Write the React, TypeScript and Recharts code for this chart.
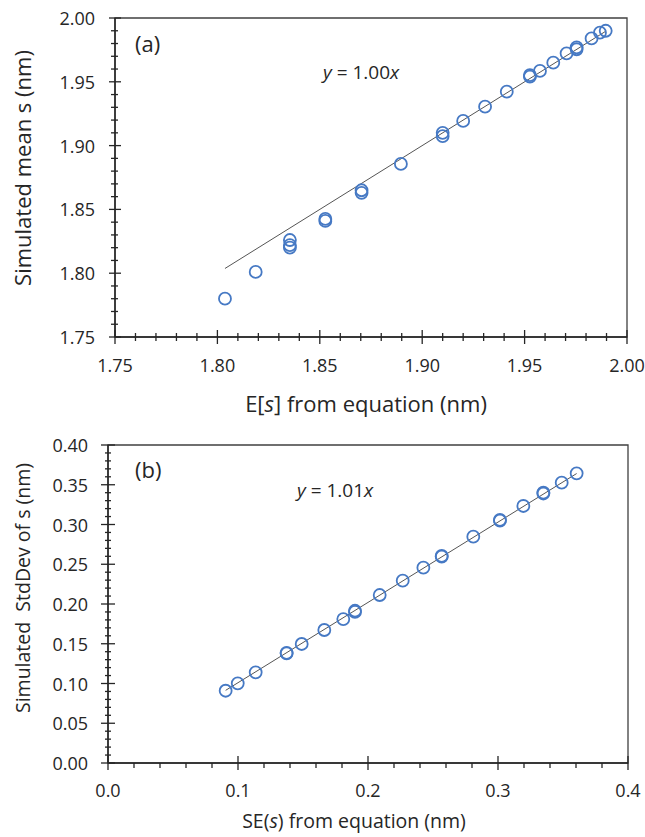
import React from 'react';
import { ScatterChart, Scatter, XAxis, YAxis, ReferenceLine, ReferenceArea, Customized } from 'recharts';

// ---- Panel (a) data ----
const meanX = [1.8037, 1.8187, 1.8354, 1.8354, 1.8354, 1.8527, 1.8527, 1.8704, 1.8704, 1.8896, 1.910, 1.910, 1.920, 1.9307, 1.9413, 1.9526, 1.9526, 1.9575, 1.964, 1.9705, 1.9754, 1.9754, 1.9827, 1.9868, 1.9896];
const meanY = [1.780, 1.801, 1.826, 1.822, 1.820, 1.8425, 1.841, 1.865, 1.863, 1.8856, 1.910, 1.9075, 1.9193, 1.9305, 1.9423, 1.9553, 1.954, 1.9585, 1.965, 1.9723, 1.977, 1.9755, 1.984, 1.9885, 1.990];
const slopeA = 1.0;

// ---- Panel (b) data ----
const sdX = [0.0905, 0.0998, 0.1136, 0.1374, 0.1374, 0.149, 0.1664, 0.181, 0.19, 0.19, 0.209, 0.2267, 0.2426, 0.2567, 0.2567, 0.281, 0.3015, 0.3015, 0.3195, 0.3349, 0.3349, 0.349, 0.3605];
const sdY = [0.0909, 0.1002, 0.114, 0.138, 0.1385, 0.1497, 0.1673, 0.181, 0.19, 0.1915, 0.2113, 0.2293, 0.2457, 0.2597, 0.2605, 0.2847, 0.305, 0.3057, 0.3233, 0.339, 0.340, 0.3526, 0.3644];
const slopeB = 1.01;

// ---- Ticks ----
const aMajor = [1.75, 1.80, 1.85, 1.90, 1.95, 2.00];
const aMinor = [1.76, 1.77, 1.78, 1.79, 1.81, 1.82, 1.83, 1.84, 1.86, 1.87, 1.88, 1.89, 1.91, 1.92, 1.93, 1.94, 1.96, 1.97, 1.98, 1.99];
const bXMajor = [0, 0.1, 0.2, 0.3, 0.4];
const bXMinor = [0.02, 0.04, 0.06, 0.08, 0.12, 0.14, 0.16, 0.18, 0.22, 0.24, 0.26, 0.28, 0.32, 0.34, 0.36, 0.38];
const bYMajor = [0, 0.05, 0.10, 0.15, 0.20, 0.25, 0.30, 0.35, 0.40];
const bYMinor = [0.01, 0.02, 0.03, 0.04, 0.06, 0.07, 0.08, 0.09, 0.11, 0.12, 0.13, 0.14, 0.16, 0.17, 0.18, 0.19, 0.21, 0.22, 0.23, 0.24, 0.26, 0.27, 0.28, 0.29, 0.31, 0.32, 0.33, 0.34, 0.36, 0.37, 0.38, 0.39];

const FONT = '"Open Sans", sans-serif';
const TXT = '#262626';
const AX = '#262626';
const MARK = '#4679C4';

const dataA = meanX.map((x, i) => ({ x, y: meanY[i] }));
const dataB = sdX.map((x, i) => ({ x, y: sdY[i] }));
const aMinX = Math.min(...meanX), aMaxX = Math.max(...meanX);
const bMinX = Math.min(...sdX), bMaxX = Math.max(...sdX);

const isIn = (arr: number[], v: number) => arr.some((m) => Math.abs(m - v) < 1e-9);

const makeXTick = (majors: number[], maj: [number, number], min: [number, number], labelOff: number, dec: number) =>
  (props: any) => {
    const { x, y, payload } = props;
    const v = payload.value;
    const major = isIn(majors, v);
    const len = major ? maj : min;
    return (
      <g>
        <line x1={x} x2={x} y1={y - len[0]} y2={y + len[1]} stroke={AX} strokeWidth={1.3} />
        {major && (
          <text x={x} y={y + labelOff} textAnchor="middle" dominantBaseline="central" fontSize={18} fontFamily={FONT} fill={TXT}>
            {v.toFixed(dec)}
          </text>
        )}
      </g>
    );
  };

const makeYTick = (majors: number[], maj: [number, number], min: [number, number], labelOff: number, dec: number) =>
  (props: any) => {
    const { x, y, payload } = props;
    const v = payload.value;
    const major = isIn(majors, v);
    const len = major ? maj : min;
    return (
      <g>
        <line x1={x - len[0]} x2={x + len[1]} y1={y} y2={y} stroke={AX} strokeWidth={1.3} />
        {major && (
          <text x={x - labelOff} y={y} textAnchor="end" dominantBaseline="central" fontSize={18} fontFamily={FONT} fill={TXT}>
            {v.toFixed(dec)}
          </text>
        )}
      </g>
    );
  };

const ring = (p: any) => <circle cx={p.cx} cy={p.cy} r={6} fill="none" stroke={MARK} strokeWidth={1.8} />;

const AnnotA = () => (
  <g fontFamily={FONT} fill={TXT}>
    <text x={135} y={43} dominantBaseline="central" fontSize={22}>(a)</text>
    <text x={323} y={72} dominantBaseline="central" fontSize={19}>
      <tspan fontStyle="italic">y</tspan> = 1.00<tspan fontStyle="italic">x</tspan>
    </text>
    <text x={366} y={403} textAnchor="middle" dominantBaseline="central" fontSize={22}>
      E[<tspan fontStyle="italic">s</tspan>] from equation (nm)
    </text>
    <text x={22} y={168} textAnchor="middle" dominantBaseline="central" fontSize={22} transform="rotate(-90 22 168)">
      Simulated mean s (nm)
    </text>
  </g>
);

const AnnotB = () => (
  <g fontFamily={FONT} fill={TXT}>
    <text x={135} y={49} dominantBaseline="central" fontSize={22}>(b)</text>
    <text x={297} y={70} dominantBaseline="central" fontSize={19}>
      <tspan fontStyle="italic">y</tspan> = 1.01<tspan fontStyle="italic">x</tspan>
    </text>
    <text x={354} y={400} textAnchor="middle" dominantBaseline="central" fontSize={19.5}>
      SE(<tspan fontStyle="italic">s</tspan>) from equation (nm)
    </text>
    <text x={22} y={168} textAnchor="middle" dominantBaseline="central" fontSize={19.5} transform="rotate(-90 22 168)" style={{ whiteSpace: 'pre' }}>
      {'Simulated  StdDev of s (nm)'}
    </text>
  </g>
);

export default function App() {
  return (
    <div style={{ position: 'absolute', left: 0, top: 0, width: 645, height: 837, background: '#fff' }}>
      <div style={{ position: 'absolute', left: 0, top: 0 }}>
        <ScatterChart width={645} height={420} margin={{ top: 18, right: 18, bottom: 0, left: 0 }}>
          <XAxis
            type="number"
            dataKey="x"
            domain={[1.75, 2.0]}
            allowDataOverflow
            ticks={[...aMajor, ...aMinor]}
            interval={0}
            tickSize={0}
            tickMargin={0}
            tickLine={false}
            axisLine={{ stroke: AX, strokeWidth: 1.5 }}
            height={83}
            tick={makeXTick(aMajor, [7, 7], [4, 4], 28, 2)}
          />
          <YAxis
            type="number"
            dataKey="y"
            domain={[1.75, 2.0]}
            allowDataOverflow
            ticks={[...aMajor, ...aMinor]}
            interval={0}
            tickSize={0}
            tickMargin={0}
            tickLine={false}
            axisLine={{ stroke: AX, strokeWidth: 1.5 }}
            width={115}
            tick={makeYTick(aMajor, [6, 6], [4, 3], 20, 2)}
          />
          <ReferenceArea x1={1.75} x2={2.0} y1={1.75} y2={2.0} fill="none" stroke="#404040" strokeWidth={1.3} />
          <ReferenceLine
            segment={[{ x: aMinX, y: slopeA * aMinX }, { x: aMaxX, y: slopeA * aMaxX }]}
            stroke="#555"
            strokeWidth={1}
          />
          <Scatter data={dataA} shape={ring} isAnimationActive={false} />
          <Customized component={<AnnotA />} />
        </ScatterChart>
      </div>
      <div style={{ position: 'absolute', left: 0, top: 420 }}>
        <ScatterChart width={645} height={417} margin={{ top: 25, right: 17, bottom: 0, left: 0 }}>
          <XAxis
            type="number"
            dataKey="x"
            domain={[0, 0.4]}
            allowDataOverflow
            ticks={[...bXMajor, ...bXMinor]}
            interval={0}
            tickSize={0}
            tickMargin={0}
            tickLine={false}
            axisLine={{ stroke: AX, strokeWidth: 1.5 }}
            height={74}
            tick={makeXTick(bXMajor, [7, 7], [0, 5], 27, 1)}
          />
          <YAxis
            type="number"
            dataKey="y"
            domain={[0, 0.4]}
            allowDataOverflow
            ticks={[...bYMajor, ...bYMinor]}
            interval={0}
            tickSize={0}
            tickMargin={0}
            tickLine={false}
            axisLine={{ stroke: AX, strokeWidth: 1.5 }}
            width={108}
            tick={makeYTick(bYMajor, [7, 7], [3, 3], 20, 2)}
          />
          <ReferenceArea x1={0} x2={0.4} y1={0} y2={0.4} fill="none" stroke="#404040" strokeWidth={1.3} />
          <ReferenceLine
            segment={[{ x: bMinX, y: slopeB * bMinX }, { x: bMaxX, y: slopeB * bMaxX }]}
            stroke="#555"
            strokeWidth={1}
          />
          <Scatter data={dataB} shape={ring} isAnimationActive={false} />
          <Customized component={<AnnotB />} />
        </ScatterChart>
      </div>
    </div>
  );
}
